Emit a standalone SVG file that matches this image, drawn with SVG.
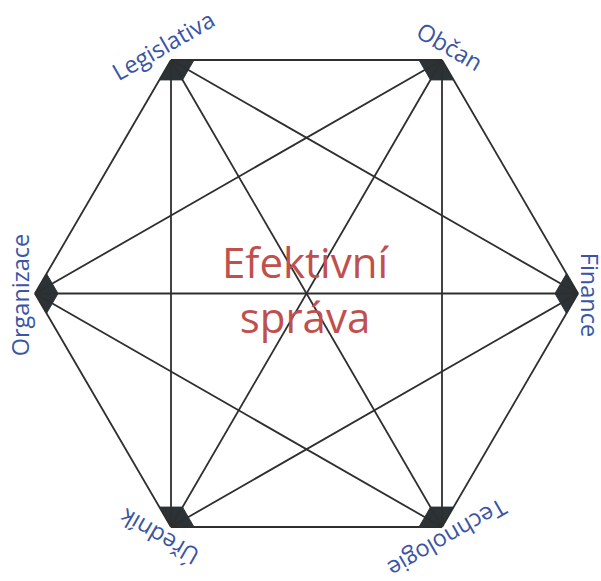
<svg xmlns="http://www.w3.org/2000/svg" width="601" height="581" viewBox="0 0 601 581">
<style>
.node{fill:#2c3337;stroke:#2c3337;stroke-width:1;stroke-linejoin:round}
.edge{stroke:#2e2e2e;stroke-width:1.8;fill:none}
.lbl{font-family:"Open Sans","Noto Sans",sans-serif;font-size:23.5px;fill:#3a55a5;text-anchor:middle}
.ctr{font-family:"Open Sans","Noto Sans",sans-serif;font-size:42px;fill:#c0504d;text-anchor:middle}
</style>
<rect width="601" height="581" fill="#ffffff"/>
<g id="node-legislativa">
<polygon class="node" points="171,60 194,60 182.5,79.9 159.5,79.9"/>
<text class="lbl" transform="translate(163.5,46) rotate(-30)" dy="0.35em">Legislativa</text>
</g>
<g id="node-obcan">
<polygon class="node" points="442,60 419,60 430.5,79.9 453.5,79.9"/>
<text class="lbl" transform="translate(449.5,47) rotate(30)" dy="0.35em">Občan</text>
</g>
<g id="node-organizace">
<polygon class="node" points="35,293.5 46.5,273.6 58,293.5 46.5,313.4"/>
<text class="lbl" transform="translate(21,295) rotate(-90)" dy="0.35em">Organizace</text>
</g>
<g id="node-finance">
<polygon class="node" points="578,293.5 566.5,273.6 555,293.5 566.5,313.4"/>
<text class="lbl" transform="translate(589.5,295) rotate(90)" dy="0.35em">Finance</text>
</g>
<g id="node-urednik">
<polygon class="node" points="171,527 159.5,507.1 182.5,507.1 194,527"/>
<text class="lbl" transform="translate(159.5,536.5) rotate(-150)" dy="0.35em">Úředník</text>
</g>
<g id="node-technologie">
<polygon class="node" points="442,527 419,527 430.5,507.1 453.5,507.1"/>
<text class="lbl" transform="translate(447,538) rotate(150)" dy="0.35em">Technologie</text>
</g>
<g id="connectors">
<line class="edge" x1="171" y1="60" x2="442" y2="60"/>
<line class="edge" x1="442" y1="60" x2="578" y2="293.5"/>
<line class="edge" x1="578" y1="293.5" x2="442" y2="527"/>
<line class="edge" x1="442" y1="527" x2="171" y2="527"/>
<line class="edge" x1="171" y1="527" x2="35" y2="293.5"/>
<line class="edge" x1="35" y1="293.5" x2="171" y2="60"/>
<line class="edge" x1="171" y1="60" x2="578" y2="293.5"/>
<line class="edge" x1="171" y1="60" x2="171" y2="527"/>
<line class="edge" x1="171" y1="60" x2="442" y2="527"/>
<line class="edge" x1="442" y1="60" x2="35" y2="293.5"/>
<line class="edge" x1="442" y1="60" x2="442" y2="527"/>
<line class="edge" x1="442" y1="60" x2="171" y2="527"/>
<line class="edge" x1="35" y1="293.5" x2="578" y2="293.5"/>
<line class="edge" x1="35" y1="293.5" x2="442" y2="527"/>
<line class="edge" x1="578" y1="293.5" x2="171" y2="527"/>
</g>
<g id="center-label">
<text class="ctr" x="305" y="278">Efektivní</text>
<text class="ctr" x="305" y="333">správa</text>
</g>
</svg>
